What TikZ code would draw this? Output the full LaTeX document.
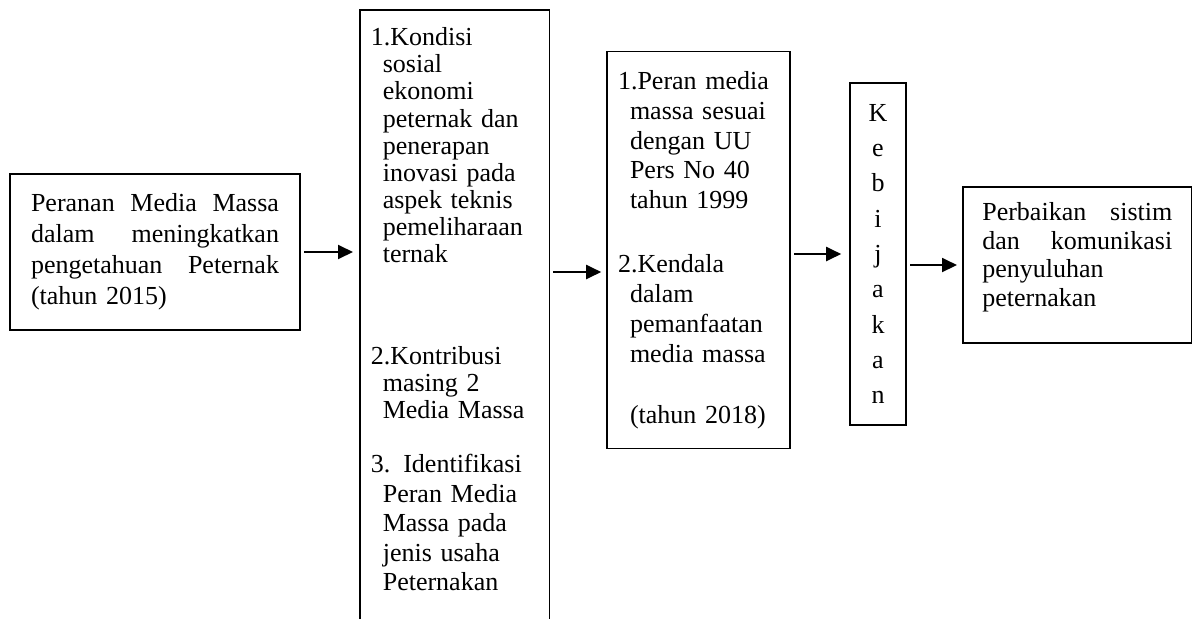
\documentclass[tikz,border=0pt]{standalone}
\usepackage{fontspec}
\setmainfont{Liberation Serif}
\usetikzlibrary{arrows.meta,positioning}

\newcommand{\subind}{\hspace*{0.24cm}}

\begin{document}
\begin{tikzpicture}[
  font=\fontsize{14.8}{17}\selectfont,
  arrow/.style={-{Triangle[length=3mm, width=2.8mm]}, line width=1.1pt,
                shorten <=0.07cm, shorten >=0.1cm},
  box/.style={draw, line width=0.9pt, inner xsep=0.2cm, align=left},
]
  \useasboundingbox (0,0) rectangle (23.84,-12.38);

  \node[box, text width=4.96cm, inner xsep=0.42cm, minimum height=3.12cm,
        font=\fontsize{14.8}{17.6}\selectfont] (pm) at (3.1,-5.04)
    {Peranan\hfill Media\hfill Massa\\ dalam\hfill meningkatkan\\
     pengetahuan\hfill Peternak\\ (tahun 2015)};

  \node[box, draw=none, anchor=north west, text width=3.36cm, inner ysep=0.34cm,
        font=\fontsize{14.8}{15.4}\selectfont] (kon) at (7.2,-0.2)
    {1.Kondisi\\ \subind sosial\\ \subind ekonomi\\ \subind peternak dan\\
     \subind penerapan\\ \subind inovasi pada\\ \subind aspek teknis\\
     \subind pemeliharaan\\ \subind ternak\\[1.5cm]
     2.Kontribusi\\ \subind masing 2\\ \subind Media Massa\\[0.54cm]
     3. Identifikasi\\[0.05cm] \subind Peran Media\\[0.05cm] \subind Massa pada\\[0.05cm]
     \subind jenis usaha\\[0.05cm] \subind Peternakan};
  \draw[line width=0.9pt] ([yshift=-12.18cm]kon.north west) -- (kon.north west)
    -- (kon.north east) -- ([yshift=-12.18cm]kon.north east);

  \node[box, text width=3.22cm, inner xsep=0.22cm, minimum height=7.94cm]
    (per) at (13.97,-5.0)
    {1.Peran media\\ \subind massa sesuai\\ \subind dengan UU\\
     \subind Pers No 40\\ \subind tahun 1999\\[0.68cm]
     2.Kendala\\ \subind dalam\\ \subind pemanfaatan\\ \subind media massa\\[0.62cm]
     \subind (tahun 2018)};

  \node[box, align=center, minimum width=1.12cm, minimum height=6.84cm,
        inner xsep=0.1cm, font=\fontsize{14.8}{20.1}\selectfont] (keb)
    at (17.56,-5.08) {K\\ e\\ b\\ i\\ j\\ a\\ k\\ a\\ n};

  \node[box, anchor=north west, text width=3.8cm, inner xsep=0.39cm,
        inner ysep=0.32cm, font=\fontsize{14.8}{16.2}\selectfont] (pb)
    at (19.24,-3.72)
    {Perbaikan\hfill sistim\\ dan\hfill komunikasi\\ penyuluhan\\
     peternakan\rule[-0.42cm]{0pt}{0.42cm}};

  \draw[arrow, shorten >=0.14cm] (pm.east) -- (pm.east -| kon.west);
  \draw[arrow] ([yshift=-0.44cm]per.west -| kon.east) -- ([yshift=-0.44cm]per.west);
  \draw[arrow, shorten >=0.16cm] (keb.west -| per.east) -- (keb.west);
  \draw[arrow] (pb.west -| keb.east) -- (pb.west);
\end{tikzpicture}
\end{document}
